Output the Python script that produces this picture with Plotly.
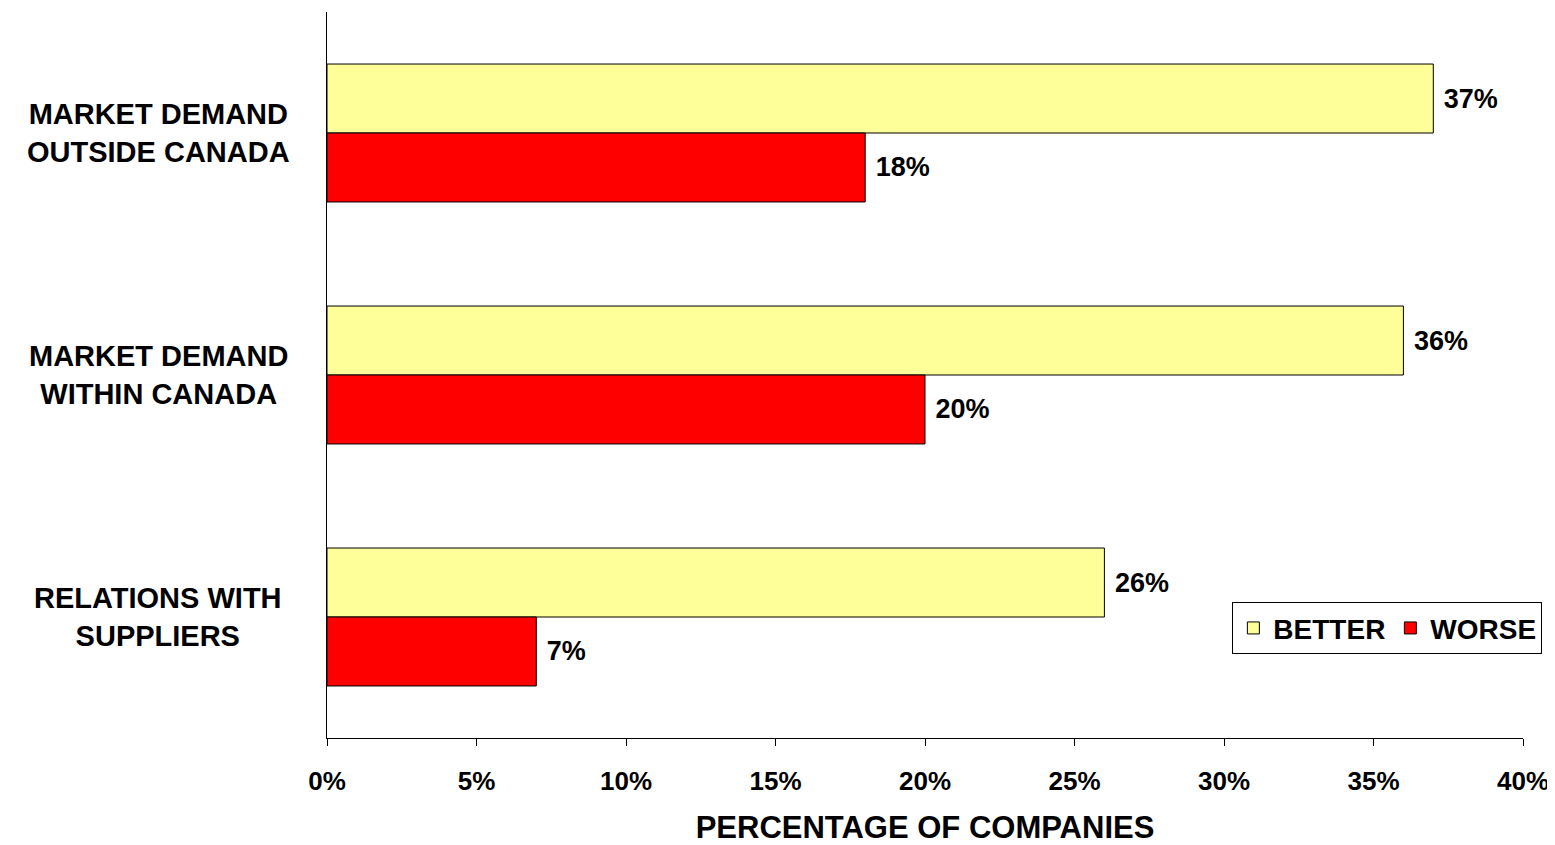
import plotly.graph_objects as go

categories = ["MARKET DEMAND<br>OUTSIDE CANADA", "MARKET DEMAND<br>WITHIN CANADA", "RELATIONS WITH<br>SUPPLIERS"]
better = [37, 36, 26]
worse = [18, 20, 7]
tick_vals = [0, 5, 10, 15, 20, 25, 30, 35, 40]
tick_text = ["0%", "5%", "10%", "15%", "20%", "25%", "30%", "35%", "40%"]

FONT = "Liberation Sans, Arial, sans-serif"

fig = go.Figure()
fig.add_trace(go.Bar(
    y=categories, x=better, orientation="h", name="BETTER",
    marker=dict(color="#FFFF99", line=dict(color="black", width=1)),
    text=[f" {v}%" for v in better], textposition="outside", cliponaxis=False,
    textfont=dict(family=FONT, size=27, color="black", weight="bold"),
))
fig.add_trace(go.Bar(
    y=categories, x=worse, orientation="h", name="WORSE",
    marker=dict(color="#FF0000", line=dict(color="black", width=1)),
    text=[f" {v}%" for v in worse], textposition="outside", cliponaxis=False,
    textfont=dict(family=FONT, size=27, color="black", weight="bold"),
))

for c in categories:
    fig.add_annotation(
        x=-0.141, xref="paper", y=c, yref="y", text=f"<b>{c}</b>",
        showarrow=False, xanchor="center", yanchor="middle", align="center",
        font=dict(family=FONT, size=29, color="black"),
    )

fig.update_layout(
    width=1547, height=837,
    margin=dict(l=319, r=32, t=4, b=107),
    plot_bgcolor="white", paper_bgcolor="white",
    barmode="group", bargap=0.43, bargroupgap=0,
    font=dict(family=FONT, color="black"),
    legend=dict(
        orientation="h", x=0.757, y=0.187, xanchor="left", yanchor="top",
        bordercolor="black", borderwidth=1, bgcolor="white",
        font=dict(family=FONT, size=28, color="black", weight="bold"),
        itemwidth=30,
    ),
    xaxis=dict(
        range=[0, 40], tickvals=tick_vals, ticktext=tick_text,
        showgrid=False, zeroline=False, showline=True, linecolor="black", linewidth=1,
        ticks="outside", ticklen=7, tickcolor="black", ticklabelstandoff=13,
        tickfont=dict(family=FONT, size=26, color="black", weight="bold"),
        title=dict(text="PERCENTAGE OF COMPANIES", standoff=23,
                   font=dict(family=FONT, size=31, color="black", weight="bold")),
    ),
    yaxis=dict(
        autorange="reversed", showticklabels=False, ticks="",
        showgrid=False, zeroline=False, showline=True, linecolor="black", linewidth=1,
    ),
)

fig.write_html("out.html")
